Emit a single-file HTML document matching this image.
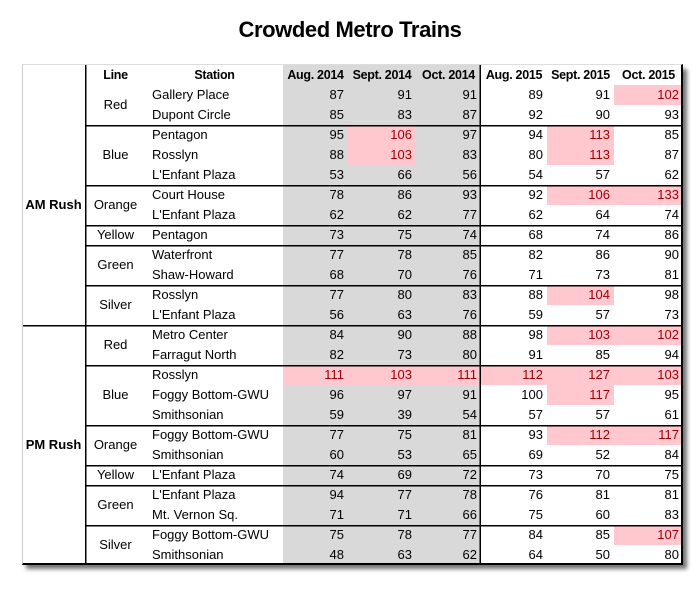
<!DOCTYPE html>
<html><head><style>
body{margin:0;width:700px;height:600px;background:#fff;font-family:"Liberation Sans",sans-serif;position:relative;overflow:hidden}
h1{position:absolute;top:17px;left:0;width:700px;text-align:center;margin:0;font-size:22px;font-weight:bold;letter-spacing:-0.4px}
table{position:absolute;left:22px;top:65px;border-collapse:collapse;table-layout:fixed;font-size:13px;box-shadow:4px 4px 4px rgba(0,0,0,0.55);border:0}
td,th{height:20px;padding:0;line-height:20px;white-space:nowrap;overflow:hidden;border:0}
th{font-weight:bold;text-align:center;font-size:12.5px;letter-spacing:-0.3px}
td.n{text-align:right;padding-right:4px}
td.s{padding-left:6px}
td.l{text-align:center;box-shadow:inset 1.5px 0 0 #000}
td.r{text-align:center;font-weight:bold}
.g{background:#d9d9d9}
.p{background:#ffc7ce;color:#9c0006}
td.v,th.v{box-shadow:inset -1.5px 0 0 #000}
tr.t td{box-shadow:inset 0 1.5px 0 #000}
tr.t td.l{box-shadow:inset 1.5px 0 0 #000,inset 0 1.5px 0 #000}
tr.t td.v{box-shadow:inset -1.5px 0 0 #000,inset 0 1.5px 0 #000}
th.lh{box-shadow:inset 1.5px 0 0 #000}
.frame{position:absolute;left:22px;top:64px;width:661px;height:501px;border-top:1px solid #ddd;border-left:1px solid #ccc;border-right:2px solid #000;border-bottom:2px solid #000;box-sizing:border-box;pointer-events:none}
</style></head><body>
<h1>Crowded Metro Trains</h1>
<table>
<colgroup><col style="width:63px"><col style="width:61px"><col style="width:137px"><col style="width:65px"><col style="width:68px"><col style="width:65px"><col style="width:66px"><col style="width:67px"><col style="width:69px"></colgroup>
<tr><th></th><th class="lh">Line</th><th>Station</th><th class="g">Aug. 2014</th><th class="g">Sept. 2014</th><th class="g v">Oct. 2014</th><th>Aug. 2015</th><th>Sept. 2015</th><th>Oct. 2015</th></tr>
<tr><td class="r" rowspan="12">AM Rush</td><td class="l" rowspan="2">Red</td><td class="s">Gallery Place</td><td class="n g">87</td><td class="n g">91</td><td class="n g v">91</td><td class="n">89</td><td class="n">91</td><td class="n p">102</td></tr>
<tr><td class="s">Dupont Circle</td><td class="n g">85</td><td class="n g">83</td><td class="n g v">87</td><td class="n">92</td><td class="n">90</td><td class="n">93</td></tr>
<tr class="t"><td class="l" rowspan="3">Blue</td><td class="s">Pentagon</td><td class="n g">95</td><td class="n p">106</td><td class="n g v">97</td><td class="n">94</td><td class="n p">113</td><td class="n">85</td></tr>
<tr><td class="s">Rosslyn</td><td class="n g">88</td><td class="n p">103</td><td class="n g v">83</td><td class="n">80</td><td class="n p">113</td><td class="n">87</td></tr>
<tr><td class="s">L'Enfant Plaza</td><td class="n g">53</td><td class="n g">66</td><td class="n g v">56</td><td class="n">54</td><td class="n">57</td><td class="n">62</td></tr>
<tr class="t"><td class="l" rowspan="2">Orange</td><td class="s">Court House</td><td class="n g">78</td><td class="n g">86</td><td class="n g v">93</td><td class="n">92</td><td class="n p">106</td><td class="n p">133</td></tr>
<tr><td class="s">L'Enfant Plaza</td><td class="n g">62</td><td class="n g">62</td><td class="n g v">77</td><td class="n">62</td><td class="n">64</td><td class="n">74</td></tr>
<tr class="t"><td class="l">Yellow</td><td class="s">Pentagon</td><td class="n g">73</td><td class="n g">75</td><td class="n g v">74</td><td class="n">68</td><td class="n">74</td><td class="n">86</td></tr>
<tr class="t"><td class="l" rowspan="2">Green</td><td class="s">Waterfront</td><td class="n g">77</td><td class="n g">78</td><td class="n g v">85</td><td class="n">82</td><td class="n">86</td><td class="n">90</td></tr>
<tr><td class="s">Shaw-Howard</td><td class="n g">68</td><td class="n g">70</td><td class="n g v">76</td><td class="n">71</td><td class="n">73</td><td class="n">81</td></tr>
<tr class="t"><td class="l" rowspan="2">Silver</td><td class="s">Rosslyn</td><td class="n g">77</td><td class="n g">80</td><td class="n g v">83</td><td class="n">88</td><td class="n p">104</td><td class="n">98</td></tr>
<tr><td class="s">L'Enfant Plaza</td><td class="n g">56</td><td class="n g">63</td><td class="n g v">76</td><td class="n">59</td><td class="n">57</td><td class="n">73</td></tr>
<tr class="t"><td class="r" rowspan="12">PM Rush</td><td class="l" rowspan="2">Red</td><td class="s">Metro Center</td><td class="n g">84</td><td class="n g">90</td><td class="n g v">88</td><td class="n">98</td><td class="n p">103</td><td class="n p">102</td></tr>
<tr><td class="s">Farragut North</td><td class="n g">82</td><td class="n g">73</td><td class="n g v">80</td><td class="n">91</td><td class="n">85</td><td class="n">94</td></tr>
<tr class="t"><td class="l" rowspan="3">Blue</td><td class="s">Rosslyn</td><td class="n p">111</td><td class="n p">103</td><td class="n p v">111</td><td class="n p">112</td><td class="n p">127</td><td class="n p">103</td></tr>
<tr><td class="s">Foggy Bottom-GWU</td><td class="n g">96</td><td class="n g">97</td><td class="n g v">91</td><td class="n">100</td><td class="n p">117</td><td class="n">95</td></tr>
<tr><td class="s">Smithsonian</td><td class="n g">59</td><td class="n g">39</td><td class="n g v">54</td><td class="n">57</td><td class="n">57</td><td class="n">61</td></tr>
<tr class="t"><td class="l" rowspan="2">Orange</td><td class="s">Foggy Bottom-GWU</td><td class="n g">77</td><td class="n g">75</td><td class="n g v">81</td><td class="n">93</td><td class="n p">112</td><td class="n p">117</td></tr>
<tr><td class="s">Smithsonian</td><td class="n g">60</td><td class="n g">53</td><td class="n g v">65</td><td class="n">69</td><td class="n">52</td><td class="n">84</td></tr>
<tr class="t"><td class="l">Yellow</td><td class="s">L'Enfant Plaza</td><td class="n g">74</td><td class="n g">69</td><td class="n g v">72</td><td class="n">73</td><td class="n">70</td><td class="n">75</td></tr>
<tr class="t"><td class="l" rowspan="2">Green</td><td class="s">L'Enfant Plaza</td><td class="n g">94</td><td class="n g">77</td><td class="n g v">78</td><td class="n">76</td><td class="n">81</td><td class="n">81</td></tr>
<tr><td class="s">Mt. Vernon Sq.</td><td class="n g">71</td><td class="n g">71</td><td class="n g v">66</td><td class="n">75</td><td class="n">60</td><td class="n">83</td></tr>
<tr class="t"><td class="l" rowspan="2">Silver</td><td class="s">Foggy Bottom-GWU</td><td class="n g">75</td><td class="n g">78</td><td class="n g v">77</td><td class="n">84</td><td class="n">85</td><td class="n p">107</td></tr>
<tr><td class="s">Smithsonian</td><td class="n g">48</td><td class="n g">63</td><td class="n g v">62</td><td class="n">64</td><td class="n">50</td><td class="n">80</td></tr>
</table>
<div class="frame"></div>
</body></html>
